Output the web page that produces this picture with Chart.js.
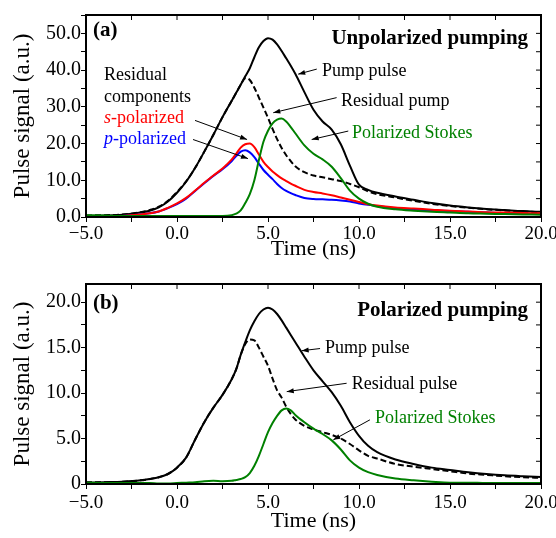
<!DOCTYPE html>
<html>
<head>
<meta charset="utf-8">
<script src="https://cdn.jsdelivr.net/npm/chart.js@4.4.0/dist/chart.umd.min.js"></script>
<style>
  body { margin: 0; background: #fff; }
  canvas { display: block; }
</style>
</head>
<body>
<canvas id="chartA" width="556" height="270"></canvas>
<canvas id="chartB" width="556" height="268"></canvas>
<script>
// time axis (ns), shared by every curve
const time = [-5, -4, -3, -2, -1.5, -1, -0.5, 0, 0.5, 1, 1.5, 2, 2.5, 3, 3.25, 3.5, 3.75, 4, 4.25, 4.5,
  4.75, 5, 5.25, 5.5, 5.75, 6, 6.25, 6.5, 7, 7.5, 8, 8.5, 9, 9.5, 10, 10.5, 11, 12, 13, 14, 15, 16, 17, 18, 19, 20];

// (a) unpolarized pumping
const pumpA = [0.3, 0.4, 0.6, 1.2, 1.7, 2.6, 4.2, 6.6, 9.6, 13.4, 17.8, 22.4, 27.2, 31.6, 33.8, 36.0, 38.3, 40.5, 43.5, 46.2,
  47.9, 48.7, 48.3, 47.0, 45.2, 43.2, 41.2, 39.0, 34.0, 29.2, 26.0, 23.8, 19.8, 14.0, 8.8, 7.4, 6.6, 5.6, 4.7, 3.8, 3.1, 2.6, 2.2, 1.9, 1.6, 1.4];
const residualA = [0.4, 0.5, 0.7, 1.3, 1.9, 2.8, 4.4, 6.8, 9.7, 13.4, 17.8, 22.4, 27.2, 31.6, 33.8, 36.0, 37.8, 37.3, 35.2, 32.5,
  29.8, 27.0, 24.0, 21.2, 18.8, 16.8, 15.2, 13.8, 12.2, 11.3, 10.8, 10.3, 9.8, 9.0, 8.1, 7.0, 6.2, 5.3, 4.4, 3.6, 3.0, 2.5, 2.1, 1.8, 1.5, 1.3];
const sPolA = [0.1, 0.15, 0.3, 0.7, 1.0, 1.5, 2.5, 3.7, 5.2, 7.2, 9.3, 11.3, 13.2, 15.6, 17.2, 18.9, 19.8, 20.0, 19.0, 17.0,
  15.0, 13.6, 12.4, 11.4, 10.5, 9.8, 9.1, 8.5, 7.4, 6.8, 6.4, 5.9, 5.3, 4.7, 4.1, 3.5, 3.1, 2.6, 2.3, 2.0, 1.7, 1.5, 1.3, 1.2, 1.1, 1.0];
const pPolA = [0.1, 0.15, 0.3, 0.7, 1.0, 1.5, 2.4, 3.5, 5.0, 7.1, 9.2, 11.2, 13.0, 15.2, 16.6, 17.8, 18.2, 17.6, 16.3, 14.5,
  12.8, 11.5, 10.3, 9.0, 7.9, 7.1, 6.5, 6.0, 5.2, 4.9, 4.8, 4.7, 4.5, 4.2, 3.7, 3.3, 3.0, 2.4, 2.0, 1.8, 1.6, 1.4, 1.2, 1.0, 0.9, 0.8];
const stokesA = [0.5, 0.4, 0.3, 0.3, 0.3, 0.3, 0.3, 0.3, 0.3, 0.3, 0.3, 0.3, 0.3, 0.5, 0.9, 1.8, 3.8, 6.2, 10.0, 15.5,
  20.5, 23.5, 25.5, 26.5, 26.8, 26.0, 24.5, 22.8, 19.5, 17.2, 15.7, 13.7, 10.6, 7.2, 5.0, 3.6, 2.8, 2.1, 1.7, 1.4, 1.2, 1.0, 0.9, 0.8, 0.7, 0.6];

// (b) polarized pumping
const pumpB = [0.15, 0.2, 0.25, 0.4, 0.55, 0.75, 1.1, 1.8, 2.9, 4.9, 6.8, 8.4, 9.8, 11.5, 12.6, 14.2, 15.6, 16.9, 17.9, 18.7,
  19.2, 19.4, 19.2, 18.7, 18.0, 17.2, 16.4, 15.6, 14.0, 12.5, 11.3, 10.1, 8.6, 6.8, 5.3, 4.2, 3.5, 2.7, 2.2, 1.8, 1.55, 1.3, 1.1, 0.95, 0.85, 0.77];
const residualB = [0.2, 0.2, 0.25, 0.4, 0.55, 0.75, 1.1, 1.8, 2.9, 4.9, 6.8, 8.4, 9.8, 11.5, 12.6, 14.2, 15.4, 15.9, 15.8, 15.0,
  14.0, 13.0, 11.6, 10.3, 9.5, 8.5, 7.7, 7.1, 6.4, 6.0, 5.7, 5.4, 5.0, 4.4, 3.7, 3.1, 2.8, 2.2, 1.9, 1.65, 1.4, 1.15, 1.0, 0.85, 0.75, 0.66];
const stokesB = [0.15, 0.1, 0.1, 0.1, 0.1, 0.05, 0.05, 0.1, 0.15, 0.2, 0.3, 0.35, 0.3, 0.35, 0.45, 0.55, 0.75, 1.2, 2.0, 3.1,
  4.4, 5.7, 6.7, 7.5, 8.1, 8.3, 8.1, 7.6, 6.8, 6.1, 5.5, 4.8, 3.8, 2.6, 1.8, 1.3, 1.0, 0.6, 0.4, 0.25, 0.15, 0.15, 0.1, 0.1, 0.1, 0.1];

const GREEN = 'rgb(0,128,0)';
const FONT = 'Liberation Serif';

Chart.defaults.font.family = FONT;
Chart.defaults.color = '#000';

function pts(vals) {
  return vals.map((v, i) => ({x: time[i], y: v}));
}

function line(vals, color, dash) {
  return {
    data: pts(vals),
    borderColor: color,
    borderWidth: 2,
    borderDash: dash || [],
    pointRadius: 0,
    fill: false,
    cubicInterpolationMode: 'monotone'
  };
}

function xLabel(v) {
  if (v % 5 !== 0) return '';
  return (v < 0 ? '\u2212' : '') + Math.abs(v).toFixed(1);
}

// labels and arrows, in data units
function drawNotes(chart, notes, arrows) {
  const {ctx, scales: {x, y}} = chart;
  ctx.save();
  ctx.textBaseline = 'middle';
  ctx.textAlign = 'left';
  notes.forEach(n => {
    const size = n.size || 18;
    const parts = n.parts || [{t: n.text}];
    const fontOf = p => (p.italic ? 'italic ' : '') + (n.bold ? 'bold ' : '') + size + 'px "' + FONT + '"';
    let total = 0;
    parts.forEach(p => { ctx.font = fontOf(p); total += ctx.measureText(p.t).width; });
    let px = x.getPixelForValue(n.x);
    if (n.align === 'right') px -= total;
    const py = y.getPixelForValue(n.y);
    ctx.fillStyle = n.color || '#000';
    parts.forEach(p => {
      ctx.font = fontOf(p);
      ctx.fillText(p.t, px, py);
      px += ctx.measureText(p.t).width;
    });
  });
  ctx.strokeStyle = '#000';
  ctx.fillStyle = '#000';
  ctx.lineWidth = 1;
  arrows.forEach(a => {
    const x1 = x.getPixelForValue(a[0]), y1 = y.getPixelForValue(a[1]);
    const x2 = x.getPixelForValue(a[2]), y2 = y.getPixelForValue(a[3]);
    ctx.beginPath();
    ctx.moveTo(x1, y1);
    ctx.lineTo(x2, y2);
    ctx.stroke();
    const ang = Math.atan2(y2 - y1, x2 - x1);
    const L = 7, W = 2.5;
    const bx = x2 - L * Math.cos(ang), by = y2 - L * Math.sin(ang);
    ctx.beginPath();
    ctx.moveTo(x2, y2);
    ctx.lineTo(bx + W * Math.sin(ang), by - W * Math.cos(ang));
    ctx.lineTo(bx - W * Math.sin(ang), by + W * Math.cos(ang));
    ctx.closePath();
    ctx.fill();
  });
  ctx.restore();
}

function framePlugin(notes, arrows) {
  return {
    id: 'frame',
    afterDatasetsDraw(chart) {
      const {ctx, chartArea: a, scales: {x, y}} = chart;
      ctx.save();
      ctx.strokeStyle = '#000';
      ctx.lineWidth = 1;
      ctx.beginPath();
      x.ticks.forEach(t => {
        const px = x.getPixelForValue(t.value);
        ctx.moveTo(px, a.top);
        ctx.lineTo(px, a.top + 5);
      });
      y.ticks.forEach(t => {
        const py = y.getPixelForValue(t.value);
        ctx.moveTo(a.right, py);
        ctx.lineTo(a.right - 5, py);
      });
      ctx.stroke();
      ctx.lineWidth = 2;
      ctx.strokeRect(a.left, a.top, a.right - a.left, a.bottom - a.top);
      ctx.restore();
      drawNotes(chart, notes, arrows);
    }
  };
}

function makeChart(id, datasets, opt) {
  return new Chart(document.getElementById(id), {
    type: 'line',
    data: {datasets: datasets},
    options: {
      responsive: false,
      animation: false,
      layout: {padding: {top: opt.padTop, right: 15, left: 0, bottom: 0}},
      plugins: {legend: {display: false}, tooltip: {enabled: false}},
      scales: {
        x: {
          type: 'linear',
          min: -5,
          max: 20,
          border: {display: false},
          grid: {drawOnChartArea: false, tickLength: 5, color: '#000', lineWidth: 1},
          ticks: {stepSize: 2.5, autoSkip: false, maxRotation: 0, padding: opt.xTickPad,
            font: {size: 19}, color: '#000', callback: xLabel},
          title: {display: true, text: 'Time (ns)', font: {size: 22},
            padding: {top: 0, bottom: opt.xTitlePad}},
          afterFit(s) { s.height = opt.xHeight; s.paddingLeft = 0; s.paddingRight = 0; }
        },
        y: {
          type: 'linear',
          min: 0,
          max: opt.yMax,
          border: {display: false},
          grid: {drawOnChartArea: false, tickLength: 5, color: '#000', lineWidth: 1},
          ticks: {stepSize: opt.yStep, includeBounds: false, autoSkip: false, padding: 0,
            font: {size: 20}, color: '#000', callback: opt.yLabel},
          title: {display: true, text: 'Pulse signal (a.u.)', font: {size: 23},
            padding: {top: 9, bottom: 0}},
          afterFit(s) { s.width = 86; s.paddingTop = 0; s.paddingBottom = 0; }
        }
      }
    },
    plugins: [framePlugin(opt.notes, opt.arrows)]
  });
}

makeChart('chartA', [
  line(stokesA, GREEN),
  line(sPolA, 'rgb(255,0,0)'),
  line(pPolA, 'rgb(0,0,255)'),
  line(pumpA, '#000'),
  line(residualA, '#000', [6, 3])
], {
  padTop: 15, xHeight: 53, xTickPad: 1, xTitlePad: 8, yMax: 55, yStep: 5,
  yLabel: v => (v % 10 === 0 ? v.toFixed(1) : ''),
  notes: [
    {text: '(a)', x: -4.62, y: 50.7, bold: true, size: 21},
    {text: 'Unpolarized pumping', x: 19.29, y: 48.5, bold: true, size: 21, align: 'right'},
    {text: 'Pump pulse', x: 7.97, y: 39.8},
    {text: 'Residual pump', x: 9.01, y: 31.6},
    {text: 'Polarized Stokes', x: 9.62, y: 22.9, color: GREEN},
    {text: 'Residual', x: -4.01, y: 38.6},
    {text: 'components', x: -4.01, y: 32.5},
    {parts: [{t: 's', italic: true}, {t: '-polarized'}], x: -4.01, y: 26.8, color: 'rgb(255,0,0)'},
    {parts: [{t: 'p', italic: true}, {t: '-polarized'}], x: -4.01, y: 21.1, color: 'rgb(0,0,255)'}
  ],
  arrows: [
    [7.68, 40.27, 6.66, 38.9],
    [8.77, 32.5, 5.29, 28.4],
    [9.41, 23.4, 7.40, 21.1],
    [0.99, 26.3, 3.85, 21.1],
    [0.88, 21.1, 3.90, 15.9]
  ]
});

makeChart('chartB', [
  line(stokesB, GREEN),
  line(pumpB, '#000'),
  line(residualB, '#000', [6, 3])
], {
  padTop: 14, xHeight: 54, xTickPad: 3, xTitlePad: 4, yMax: 22, yStep: 2.5,
  yLabel: v => (v === 0 ? '0' : (v % 5 === 0 ? v.toFixed(1) : '')),
  notes: [
    {text: '(b)', x: -4.62, y: 19.9, bold: true, size: 21},
    {text: 'Polarized pumping', x: 19.29, y: 19.1, bold: true, size: 21, align: 'right'},
    {text: 'Pump pulse', x: 8.13, y: 14.9},
    {text: 'Residual pulse', x: 9.6, y: 11.0},
    {text: 'Polarized Stokes', x: 10.88, y: 7.24, color: GREEN}
  ],
  arrows: [
    [7.86, 14.9, 6.85, 14.66],
    [9.32, 11.08, 6.03, 10.16],
    [10.6, 7.06, 8.59, 4.86]
  ]
});
</script>
</body>
</html>
